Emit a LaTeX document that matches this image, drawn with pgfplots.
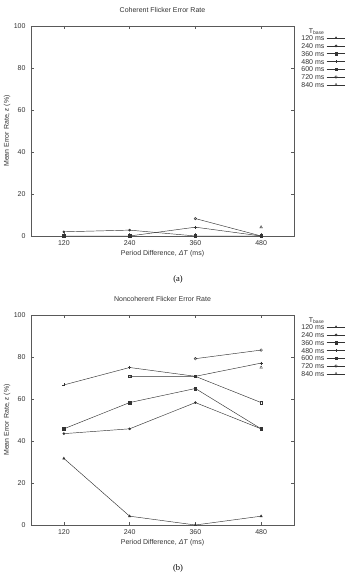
\documentclass[border=0pt]{standalone}
\usepackage{fontspec}
\setmainfont{Liberation Sans}
\newfontfamily\seriffont{Liberation Serif}
\usepackage{pgfplots}
\pgfplotsset{compat=1.18}
\definecolor{axgray}{gray}{0.35}
\definecolor{lngray}{gray}{0.2}
\pgfplotsset{
 myaxis/.style={
  scale only axis, width=263pt, height=210pt,
  xmin=60, xmax=540, ymin=0, ymax=100,
  xtick={120,240,360,480}, ytick={0,20,40,60,80,100},
  tick pos=both, tick align=inside, major tick length=3pt,
  axis line style={axgray, line width=0.5pt},
  every tick/.style={axgray, line width=0.5pt},
  /pgf/number format/assume math mode=true,
  tick label style={font=\fontsize{7}{8}\selectfont, text=black!80},
  xticklabel style={yshift=-1.5pt},
  yticklabel style={xshift=-2pt},
  title style={at={(axis description cs:0.5,1)}, anchor=center, yshift=10pt, font=\fontsize{7}{8}\selectfont, text=black!80},
  xlabel style={at={(axis description cs:0.5,0)}, anchor=center, yshift=-18pt, font=\fontsize{7}{8}\selectfont, text=black!80},
  ylabel style={at={(axis description cs:-0.091,0.5)}, anchor=center, font=\fontsize{7}{8}\selectfont, text=black!80},
  xlabel={Period Difference, \textit{ΔT} (ms)},
  ylabel={Mean Error Rate, \textit{ε} (\%)},
  legend plot pos=right, legend cell align=right,
  legend style={at={(axis description cs:1.02,1.0)}, anchor=north west, draw=none, fill=none,
    font=\fontsize{7}{7}\selectfont, text=black!80, row sep=-2.6pt, inner sep=0pt},
  legend image code/.code={\draw[mark repeat=2,mark phase=2, yshift=1pt] plot coordinates {(0cm,0cm) (0.33cm,0cm) (0.66cm,0cm)};},
  every axis plot/.append style={lngray, line width=0.45pt},
 },
 s120/.style={mark=triangle*, mark size=1.3pt},
 s240/.style={mark=*, mark size=1.1pt},
 s360/.style={mark=square*, mark size=1.3pt},
 s480/.style={mark=+, mark size=1.5pt, mark options={line width=0.7pt}},
 s600/.style={mark=square, mark size=1.3pt, mark options={line width=0.4pt}},
 s720/.style={mark=o, mark size=1.3pt, mark options={line width=0.4pt}},
 s840/.style={mark=triangle, mark size=1.5pt, mark options={line width=0.4pt}},
}
\begin{document}
\begin{tikzpicture}[x=1pt,y=1pt]
\useasboundingbox (0,0) rectangle (356,573);
\begin{axis}[myaxis, at={(31pt,337pt)}, anchor=south west, title={Coherent Flicker Error Rate}]
\addlegendimage{empty legend}\addlegendentry{T\textsubscript{base}}
\addplot[s120] coordinates {(120,0) (240,0) (360,0) (480,0)};\addlegendentry{120 ms}
\addplot[s240] coordinates {(120,2.0) (240,2.8) (360,0) (480,0)};\addlegendentry{240 ms}
\addplot[s360] coordinates {(120,0) (240,0) (360,0) (480,0)};\addlegendentry{360 ms}
\addplot[s480] coordinates {(120,0) (240,0) (360,4.2) (480,0)};\addlegendentry{480 ms}
\addplot[s600] coordinates {(240,0) (360,0) (480,0)};\addlegendentry{600 ms}
\addplot[s720] coordinates {(360,8.3) (480,0)};\addlegendentry{720 ms}
\addplot[s840] coordinates {(480,4.2)};\addlegendentry{840 ms}
\end{axis}
\node[font=\seriffont\fontsize{8.5}{10}\selectfont] at (178,294) {(a)};
\begin{axis}[myaxis, at={(31pt,48pt)}, anchor=south west, title={Noncoherent Flicker Error Rate}]
\addlegendimage{empty legend}\addlegendentry{T\textsubscript{base}}
\addplot[s120] coordinates {(120,31.7) (240,4.2) (360,0) (480,4.2)};\addlegendentry{120 ms}
\addplot[s240] coordinates {(120,43.5) (240,45.8) (360,58.3) (480,45.8)};\addlegendentry{240 ms}
\addplot[s360] coordinates {(120,45.8) (240,58.3) (360,65.0) (480,45.8)};\addlegendentry{360 ms}
\addplot[s480] coordinates {(120,66.7) (240,75.0) (360,70.8) (480,77.1)};\addlegendentry{480 ms}
\addplot[s600] coordinates {(240,70.8) (360,70.8) (480,58.3)};\addlegendentry{600 ms}
\addplot[s720] coordinates {(360,79.2) (480,83.3)};\addlegendentry{720 ms}
\addplot[s840] coordinates {(480,75.0)};\addlegendentry{840 ms}
\end{axis}
\node[font=\seriffont\fontsize{8.5}{10}\selectfont] at (178,5) {(b)};
\end{tikzpicture}
\end{document}
